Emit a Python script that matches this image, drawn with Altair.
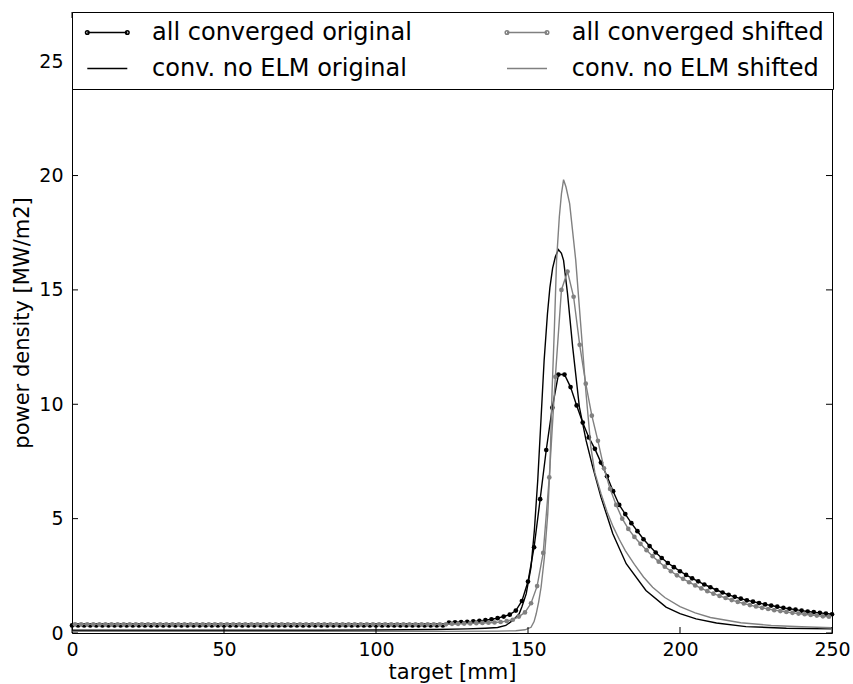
import altair as alt
import pandas as pd

FONT = "DejaVu Sans"
BLACK = "#000000"
GRAY = "#808080"

# legend order: column 1 then column 2
series_names = ["all converged original", "conv. no ELM original",
                "all converged shifted", "conv. no ELM shifted"]
series_colors = [BLACK, BLACK, GRAY, GRAY]

x_ticks = [0, 50, 100, 150, 200, 250]
y_ticks = [0, 5, 10, 15, 20, 25]

# ---- all converged original (sampled every 2 mm) ----
ao_x = list(range(0, 251, 2))
ao_y = [0.33, 0.33, 0.33, 0.33, 0.33, 0.33, 0.33, 0.33, 0.33, 0.33,
        0.33, 0.33, 0.33, 0.33, 0.33, 0.33, 0.33, 0.33, 0.33, 0.33,
        0.33, 0.33, 0.33, 0.33, 0.33, 0.33, 0.33, 0.33, 0.33, 0.33,
        0.33, 0.33, 0.33, 0.33, 0.33, 0.33, 0.33, 0.33, 0.33, 0.33,
        0.33, 0.33, 0.33, 0.33, 0.33, 0.33, 0.33, 0.33, 0.33, 0.33,
        0.33, 0.33, 0.33, 0.33, 0.33, 0.33, 0.33, 0.33, 0.33, 0.33,
        0.33, 0.33,
        0.46, 0.47, 0.48, 0.49, 0.51, 0.53, 0.56, 0.60, 0.65, 0.72,
        0.80, 0.98, 1.40,
        2.25, 3.75, 5.85, 8.0, 9.85, 11.3, 11.3, 10.75, 9.95, 9.2,
        8.55, 8.05, 7.45, 6.85, 6.2, 5.6, 5.2, 4.8, 4.45, 4.1,
        3.8, 3.52, 3.28, 3.06, 2.88, 2.7,
        2.54, 2.39, 2.26, 2.12, 2.0, 1.88, 1.77, 1.67, 1.58, 1.5,
        1.43, 1.37, 1.31, 1.25, 1.2, 1.15, 1.1, 1.06, 1.02, 0.98,
        0.94, 0.91, 0.88, 0.85, 0.82]

# ---- all converged shifted ----
as_x = list(range(1, 250, 2))
as_y = [0.38, 0.38, 0.38, 0.38, 0.38, 0.38, 0.38, 0.38, 0.38, 0.38,
        0.38, 0.38, 0.38, 0.38, 0.38, 0.38, 0.38, 0.38, 0.38, 0.38,
        0.38, 0.38, 0.38, 0.38, 0.38, 0.38, 0.38, 0.38, 0.38, 0.38,
        0.38, 0.38, 0.38, 0.38, 0.38, 0.38, 0.38, 0.38, 0.38, 0.38,
        0.38, 0.38, 0.38, 0.38, 0.38, 0.38, 0.38, 0.38, 0.38, 0.38,
        0.38, 0.38, 0.38, 0.38, 0.38, 0.38, 0.38, 0.38, 0.38, 0.38,
        0.38, 0.38,
        0.40, 0.40, 0.41, 0.42, 0.43, 0.44, 0.45, 0.46, 0.48, 0.52,
        0.58, 0.72, 0.9,
        1.3, 2.05, 3.5, 6.8, 11.2, 15.0, 15.8, 14.7, 12.6, 10.9,
        9.5, 8.4, 7.2, 6.3, 5.6, 5.0, 4.55, 4.2, 3.9, 3.62,
        3.36, 3.12, 2.9, 2.7, 2.52,
        2.37, 2.22, 2.08, 1.95, 1.83, 1.72, 1.62, 1.53, 1.44, 1.36,
        1.29, 1.22, 1.16, 1.1, 1.05, 1.0, 0.96, 0.92, 0.88, 0.85,
        0.82, 0.79, 0.76, 0.73, 0.71]

# ---- conv. no ELM original ----
no_x = [0, 40, 80, 100, 120, 130, 136, 140, 142.7, 145, 147.1, 148, 149.4,
        151, 152.1, 153.2, 154.3, 155.3, 156.4, 157.2, 158.1, 159, 160,
        161, 161.7, 163, 164.7, 166.9, 169.1, 171.3, 174, 177.9, 182.3,
        188.8, 195.4, 200, 205.3, 212, 221.7, 235, 249.7]
no_y = [0.12, 0.12, 0.12, 0.13, 0.15, 0.18, 0.21, 0.24, 0.33, 0.55, 0.84,
        1.15, 1.71, 2.88, 4.5, 6.67, 9.4, 11.9, 13.96, 15.1, 15.95, 16.45,
        16.76, 16.6, 16.29, 14.84, 12.5, 9.88, 8.42, 7.25, 5.94, 4.34,
        3.03, 1.86, 1.13, 0.85, 0.62, 0.44, 0.28, 0.21, 0.18]

# ---- conv. no ELM shifted ----
ns_x = [0, 60, 120, 140, 146, 149, 151, 152, 152.7, 153.5, 154.3, 155.4,
        156.5, 157.2, 157.9, 158.7, 159.4, 160.3, 161, 161.7, 162.5, 163.7,
        165.7, 167.4, 169.1, 170.7, 172, 174, 176, 178, 180, 182, 185, 188,
        191, 195, 200, 205, 210, 220, 230, 240, 250]
ns_y = [0.07, 0.07, 0.07, 0.08, 0.1, 0.14, 0.25, 0.5, 0.84, 1.35, 2.0, 3.32,
        5.21, 7.2, 10.5, 13.4, 16.3, 18.19, 19.2, 19.82, 19.5, 18.77, 16.3,
        13.38, 10.46, 8.1, 7.0, 6.1, 5.3, 4.65, 4.1, 3.6, 3.0, 2.45,
        2.0, 1.55, 1.15, 0.88, 0.68, 0.45, 0.33, 0.27, 0.23]

assert len(ao_x) == len(ao_y)
assert len(as_x) == len(as_y)
assert len(no_x) == len(no_y)
assert len(ns_x) == len(ns_y)

# legend symbol shapes (line with dots at ends / plain line)
PATH_DOTS = ("M-2,0H2"
             "M-2.18,0a0.18,0.18 0 1,0 0.36,0a0.18,0.18 0 1,0 -0.36,0"
             "M1.82,0a0.18,0.18 0 1,0 0.36,0a0.18,0.18 0 1,0 -0.36,0")
PATH_LINE = "M-2,0H2"
series_shapes = [PATH_DOTS, PATH_LINE, PATH_DOTS, PATH_LINE]

W, H = 760, 621
TICK = 6

X = alt.X("x:Q",
          scale=alt.Scale(domain=[0, 250], nice=False, zero=False),
          axis=alt.Axis(values=x_ticks, format="d", title="target [mm]",
                        grid=False, ticks=False, domain=False,
                        labelFlush=False, labelOverlap=False,
                        labelPadding=7, titlePadding=2))
Y = alt.Y("y:Q",
          scale=alt.Scale(domain=[0, 27.15], nice=False, zero=False),
          axis=alt.Axis(values=y_ticks, format="d",
                        title="power density [MW/m2]",
                        grid=False, ticks=False, domain=False,
                        labelFlush=False, labelOverlap=False,
                        labelPadding=9, titlePadding=6))


def df(xs, ys):
    return pd.DataFrame({"x": xs, "y": ys})


def line(xs, ys, color):
    return alt.Chart(df(xs, ys)).mark_line(color=color, strokeWidth=1.4).encode(x=X, y=Y)


def dots(xs, ys, color):
    return alt.Chart(df(xs, ys)).mark_point(
        filled=True, size=22, color=color, opacity=1, strokeWidth=0
    ).encode(x=X, y=Y)


legend_layer = alt.Chart(pd.DataFrame({"series": series_names})).mark_point(
    filled=False, opacity=0, strokeWidth=1.5
).encode(
    stroke=alt.Stroke("series:N",
                      scale=alt.Scale(domain=series_names, range=series_colors),
                      legend=alt.Legend(title=None)),
    shape=alt.Shape("series:N",
                    scale=alt.Scale(domain=series_names, range=series_shapes),
                    legend=alt.Legend(title=None)),
)

xt = pd.DataFrame({"x": x_ticks})
yt = pd.DataFrame({"y": y_ticks})
tick_bottom = alt.Chart(xt).mark_rule(color=BLACK, strokeWidth=1).encode(
    x=X, y=alt.value(H), y2=alt.value(H - TICK))
tick_top = alt.Chart(xt).mark_rule(color=BLACK, strokeWidth=1).encode(
    x=X, y=alt.value(0), y2=alt.value(TICK))
tick_left = alt.Chart(yt).mark_rule(color=BLACK, strokeWidth=1).encode(
    y=Y, x=alt.value(0), x2=alt.value(TICK))
tick_right = alt.Chart(yt).mark_rule(color=BLACK, strokeWidth=1).encode(
    y=Y, x=alt.value(W), x2=alt.value(W - TICK))

chart = alt.layer(
    legend_layer,
    line(ao_x, ao_y, BLACK), dots(ao_x, ao_y, BLACK),
    line(no_x, no_y, BLACK),
    line(as_x, as_y, GRAY), dots(as_x, as_y, GRAY),
    line(ns_x, ns_y, GRAY),
    tick_bottom, tick_top, tick_left, tick_right,
).properties(
    width=W, height=H,
    padding={"left": 72, "top": 12, "right": 21, "bottom": 51},
    autosize=alt.AutoSizeParams(type="none"),
).configure_view(
    stroke=BLACK, strokeWidth=1
).configure_axis(
    labelFont=FONT, labelFontSize=19, labelColor=BLACK,
    titleFont=FONT, titleFontSize=21, titleColor=BLACK, titleFontWeight="normal",
).configure_legend(
    orient="none", legendX=0, legendY=0, columns=2,
    strokeColor=BLACK, fillColor="white", padding=8.5, cornerRadius=0,
    symbolSize=400, symbolStrokeWidth=1.5, symbolOffset=14.8, labelOffset=32.8,
    labelFont=FONT, labelFontSize=24, labelColor=BLACK, labelLimit=0,
    columnPadding=87.7, rowPadding=12, symbolOpacity=1,
)

chart.save("out.html", embed_options={"renderer": "svg", "actions": False})
